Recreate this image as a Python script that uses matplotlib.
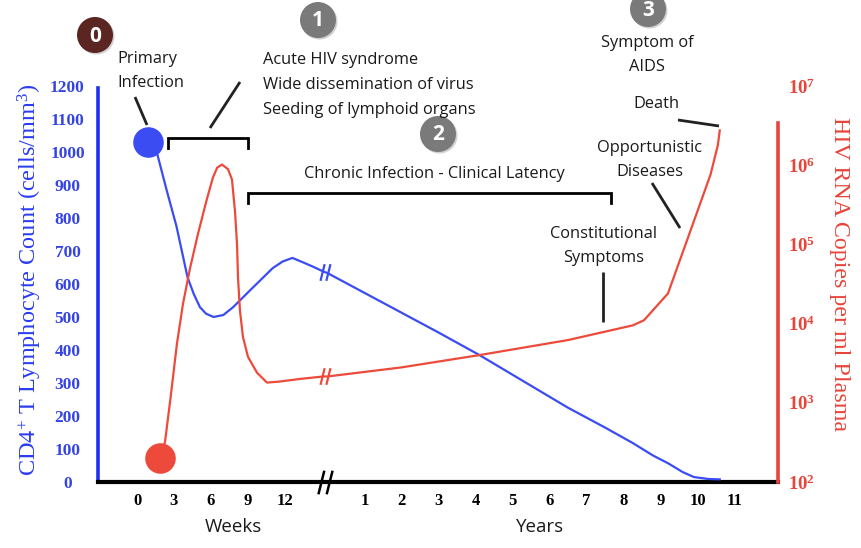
import numpy as np
import matplotlib
matplotlib.use("Agg")
import matplotlib.pyplot as plt
from matplotlib.path import Path
from matplotlib.patches import Circle

# -------------------------------
# Data
# -------------------------------

# CD4+ T cell count, first weeks after infection
cd4_weeks = [0.9, 1.6, 2.4, 3.2, 4.1, 4.6, 5.1, 5.6, 6.2, 7.0, 7.8, 9.2, 11.0, 11.8, 12.6, 13.5, 14.3, 15.1]
cd4_weeks_val = [1030, 1000, 885, 775, 620, 570, 530, 510, 500, 506, 530, 582, 648, 668, 679, 665, 652, 638]

# CD4+ T cell count, years after infection
cd4_years = [0.0, 1.0, 2.0, 3.0, 4.1, 5.0, 6.5, 7.5, 8.25, 8.8, 9.2, 9.6, 9.9, 10.3, 10.6]
cd4_years_val = [633, 573, 513, 453, 385, 325, 225, 165, 118, 80, 57, 30, 15, 9, 8]

# HIV RNA copies per ml, first weeks
rna_weeks = [1.86, 2.27, 2.76, 3.24, 3.73, 4.3, 4.95, 5.68, 6.16, 6.5, 6.89, 7.38, 7.7, 7.95,
             8.11, 8.19, 8.35, 8.59, 9.0, 9.73, 10.54, 11.5, 13.2, 15.1]
rna_weeks_val = [200, 320, 1300, 5600, 17800, 50000, 137000, 380000, 700000, 930000, 1020000,
                 890000, 660000, 257000, 100000, 38000, 14500, 6800, 3800, 2400, 1800, 1850,
                 2000, 2150]

# HIV RNA copies per ml, years
rna_years = [0.0, 2.0, 4.1, 6.5, 8.25, 8.55, 9.2, 9.8, 10.35, 10.55, 10.6]
rna_years_val = [2150, 2800, 4000, 6200, 9500, 11000, 24000, 145000, 760000, 1800000, 2750000]

week_ticks = [0, 3, 6, 9, 12]
year_ticks = list(range(1, 12))
cd4_ticks = list(range(0, 1300, 100))
rna_ticks = [1e2, 1e3, 1e4, 1e5, 1e6, 1e7]


# weeks and years share one broken x axis
def wk(w):
    return np.asarray(w, dtype=float) / 3.0


def yr(y):
    return np.asarray(y, dtype=float) + 5.15


BREAK = 5.08

BLUE = "#3a4cf2"
RED = "#ee4a3c"
SPINE_BLUE = "#1f2ff0"
SPINE_RED = "#e8443a"
TXT = "#1a1a1a"

serif = "Liberation Serif"
sans = "Open Sans"
plt.rcParams["mathtext.fontset"] = "custom"
plt.rcParams["mathtext.rm"] = serif
plt.rcParams["mathtext.it"] = serif + ":italic"
plt.rcParams["mathtext.bf"] = serif + ":bold"

# -------------------------------
# Figure and axes
# -------------------------------
W, H = 862, 548
fig = plt.figure(figsize=(W / 100, H / 100), dpi=100)
fig.patch.set_facecolor("white")

left, right, top, bottom = 98, 778, 86, 482
ax = fig.add_axes([left / W, (H - bottom) / H, (right - left) / W, (bottom - top) / H])
ax2 = ax.twinx()

ax.set_xlim((left - 137) / 37, (right - 137) / 37)
ax.set_ylim(0, 1200)
ax2.set_yscale("log")
ax2.set_ylim(1e2, 1e7)

# curves
cd4_x = np.concatenate([wk(cd4_weeks), yr(cd4_years)])
cd4_y = np.concatenate([cd4_weeks_val, cd4_years_val])
rna_x = np.concatenate([wk(rna_weeks), yr(rna_years)])
rna_y = np.concatenate([rna_weeks_val, rna_years_val])

ax.plot(cd4_x, cd4_y, color=BLUE, lw=1.6, solid_joinstyle="round", zorder=3)
ax2.plot(rna_x, rna_y, color=RED, lw=1.6, solid_joinstyle="round", zorder=3)

# start dots
ax.plot(cd4_x[0], cd4_y[0], "o", ms=22, color=BLUE, mec="none", zorder=5)
ax2.plot(rna_x[0], rna_y[0], "o", ms=22, color=RED, mec="none", zorder=5)

# break marks "//"
brk = Path([(-0.6, -1), (-0.1, 1), (0.1, -1), (0.6, 1)],
           [Path.MOVETO, Path.LINETO, Path.MOVETO, Path.LINETO])
ax.plot(BREAK, np.interp(BREAK, cd4_x, cd4_y), marker=brk, ms=12, mfc="none",
        mec=BLUE, mew=1.6, zorder=4)
ax2.plot(BREAK, 10 ** np.interp(BREAK, rna_x, np.log10(rna_y)), marker=brk, ms=12,
         mfc="none", mec=RED, mew=1.6, zorder=4)
ax.plot(BREAK, 0, marker=brk, ms=17, mfc="none", mec="black", mew=1.8,
        clip_on=False, zorder=6)


# brackets
def bracket(x0, x1, yv, drop=30):
    ax.plot([x0, x0, x1, x1], [yv - drop, yv, yv, yv - drop], color="black",
            lw=2, solid_joinstyle="miter", zorder=4)


bracket(wk(2.5), wk(9), 1042)
bracket(wk(9), yr(7.65), 876)

# spines
for s in ["top", "right"]:
    ax.spines[s].set_visible(False)
for s in ["top", "left", "bottom"]:
    ax2.spines[s].set_visible(False)
ax.spines["left"].set_color(SPINE_BLUE)
ax.spines["left"].set_linewidth(2.6)
ax.spines["left"].set_bounds(0, 1195)
ax.spines["bottom"].set_color("black")
ax.spines["bottom"].set_linewidth(3)
ax2.spines["right"].set_color(SPINE_RED)
ax2.spines["right"].set_linewidth(2.6)
ax2.spines["right"].set_bounds(1e2, 10 ** 6.53)

# ticks
ax.set_xticks(np.concatenate([wk(week_ticks), yr(year_ticks)]))
ax.set_xticklabels([str(t) for t in week_ticks] + [str(t) for t in year_ticks],
                   fontfamily=serif, fontweight="bold", fontsize=12)
ax.tick_params(axis="x", length=0, pad=8, colors="black")

ax.set_yticks(cd4_ticks)
ax.set_yticklabels([str(t) for t in cd4_ticks], fontfamily=serif,
                   fontweight="bold", fontsize=12.5)
ax.tick_params(axis="y", length=0, pad=22, colors="#3444e4")
for lbl in ax.get_yticklabels():
    lbl.set_ha("center")

ax2.set_yticks(rna_ticks)
ax2.set_yticklabels([r"$\mathbf{10^{%d}}$" % np.log10(t) for t in rna_ticks], fontsize=13.5)
ax2.yaxis.set_minor_locator(matplotlib.ticker.NullLocator())
ax2.tick_params(axis="y", length=0, pad=7, colors=SPINE_RED)

# axis titles
ax.set_ylabel(r"CD4$^{+}$ T Lymphocyte Count (cells/mm$^{3}$)", fontfamily=serif,
              fontsize=17.5, color="#2a3cf0")
ax.yaxis.set_label_coords((44 - left) / (right - left), 0.51)
ax2.set_ylabel("HIV RNA Copies per ml Plasma", fontfamily=serif, fontsize=17.3,
               color=SPINE_RED, rotation=-90, va="center")
ax2.yaxis.set_label_coords((840 - left) / (right - left), 0.525)

# -------------------------------
# Annotations (overlay in pixel units)
# -------------------------------
ov = fig.add_axes([0, 0, 1, 1])
ov.set_xlim(0, W)
ov.set_ylim(H, 0)
ov.axis("off")

kw = dict(fontfamily=sans, fontsize=11.8, color=TXT, linespacing=1.72)
ov.text(117, 71, "Primary\nInfection", ha="left", va="center", **kw)
ov.text(263, 85, "Acute HIV syndrome\nWide dissemination of virus\nSeeding of lymphoid organs",
        ha="left", va="center", **kw)
ov.text(434, 174, "Chronic Infection - Clinical Latency", ha="center", va="center", **kw)
ov.text(604, 246, "Constitutional\nSymptoms", ha="center", va="center", **kw)
ov.text(650, 160, "Opportunistic\nDiseases", ha="center", va="center", **kw)
ov.text(656, 104, "Death", ha="center", va="center", **kw)
ov.text(647, 55, "Symptom of\nAIDS", ha="center", va="center", **kw)
ov.text(233, 527, "Weeks", ha="center", va="center", fontfamily=sans, fontsize=13.5, color=TXT)
ov.text(540, 527, "Years", ha="center", va="center", fontfamily=sans, fontsize=13.5, color=TXT)

# pointer lines
pointers = [((135, 97), (147, 125)), ((240, 82), (210, 128)), ((603, 272), (603, 322)),
            ((652, 183), (680, 228)), ((678, 120), (719, 126))]
for (x0, y0), (x1, y1) in pointers:
    ov.plot([x0, x1], [y0, y1], color="#222222", lw=2, solid_capstyle="butt")

# numbered badges
badges = [("0", 95, 35, "#5b2621"), ("1", 318, 20, "#7a7a7a"),
          ("2", 438, 134, "#7a7a7a"), ("3", 648, 9, "#7a7a7a")]
for num, bx, by, col in badges:
    ov.add_patch(Circle((bx + 1.5, by + 1.5), 18, color="#000000", alpha=0.18, lw=0))
    ov.add_patch(Circle((bx, by), 18, color=col, lw=0))
    ov.text(bx, by + 1, num, ha="center", va="center", fontfamily=sans,
            fontweight="bold", fontsize=15, color="white")

fig.savefig("out.png", dpi=100, facecolor="white")
